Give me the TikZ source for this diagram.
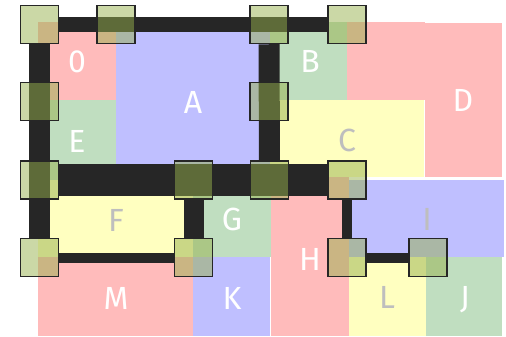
\documentclass[tikz,border=0pt]{standalone}
\usepackage{fontspec}
\setmainfont{Fira Sans}
\definecolor{rred}{RGB}{255,187,187}
\definecolor{rblue}{RGB}{191,191,255}
\definecolor{rgreen}{RGB}{192,222,192}
\definecolor{ryellow}{RGB}{255,255,192}
\definecolor{edgec}{RGB}{38,38,38}
\definecolor{nodec}{RGB}{151,177,77}
\definecolor{lgray}{RGB}{190,190,190}
\tikzset{
  vert/.style={draw=edgec, line width=1.5pt, fill=nodec, fill opacity=0.5, draw opacity=1, minimum size=38pt, inner sep=0pt, outer sep=0pt},
  conn/.style={draw=edgec, line cap=butt},
  lab/.style={font=\fontsize{32}{32}\selectfont, text height=22pt, text depth=0pt, inner sep=0pt, text=white},
  glab/.style={lab, text=lgray}
}
\begin{document}
\begin{tikzpicture}[x=1pt,y=-1pt]
\useasboundingbox (0,0) rectangle (506,337);
% regions
\fill[rred] (38,22) rectangle (116,100);
\fill[rgreen] (38,100) rectangle (116,180);
\fill[rblue] (116,22) rectangle (270,180);
\fill[rgreen] (270,22) rectangle (347,100);
\fill[rred] (347,22) rectangle (425,100);
\fill[rred] (425,23) rectangle (502,177);
\fill[ryellow] (270,100) rectangle (424,177);
\fill[ryellow] (38,180) rectangle (193,257);
\fill[rgreen] (193,180) rectangle (271,257);
\fill[rred] (271,177) rectangle (349,336);
\fill[rblue] (349,180) rectangle (504,257);
\fill[ryellow] (349,257) rectangle (426,336);
\fill[rgreen] (426,257) rectangle (502,336);
\fill[rred] (38,257) rectangle (193,336);
\fill[rblue] (193,257) rectangle (270,336);
% labels
\node[lab] (l0) at (77,62) {0};
\node[lab] (lA) at (193,102) {A};
\node[lab] (lB) at (310,62) {B};
\node[lab] (lD) at (463,100) {D};
\node[lab] (lE) at (77,141) {E};
\node[glab] (lC) at (347,140) {C};
\node[glab] (lF) at (116,220) {F};
\node[lab] (lG) at (232,219) {G};
\node[lab] (lH) at (310,259) {H};
\node[glab] (lI) at (427,219) {I};
\node[glab] (lL) at (387,297) {L};
\node[lab] (lJ) at (465,297) {J};
\node[lab] (lM) at (116,298) {M};
\node[lab] (lK) at (232,298) {K};
% vertex positions
\coordinate (p1) at (39.5,24.5);
\coordinate (p2) at (116,24.5);
\coordinate (p3) at (269,24.5);
\coordinate (p4) at (347,24.5);
\coordinate (p5) at (39.5,101.5);
\coordinate (p6) at (269,101.5);
\coordinate (p7) at (39.5,180);
\coordinate (p8) at (193.5,180);
\coordinate (p9) at (269.5,180);
\coordinate (p10) at (347,180);
\coordinate (p11) at (39.5,257.5);
\coordinate (p12) at (193.5,257.5);
\coordinate (p13) at (347,257.5);
\coordinate (p14) at (428,257.5);
% invisible anchors for clipping connectors
\foreach \i in {1,...,14} {\path (p\i) node[minimum size=39.5pt, inner sep=0pt, outer sep=0pt] (n\i) {};}
% connectors
\draw[conn, line width=15pt] (n1) -- (n4);
\draw[conn, line width=21pt] (n1) -- (n11);
\draw[conn, line width=21pt] (n3) -- (n9);
\draw[conn, line width=32pt] (n7) -- (n10);
\draw[conn, line width=20pt] (n8) -- (n12);
\draw[conn, line width=10pt] (n11) -- (n12);
\draw[conn, line width=10pt] (n10) -- (n13);
\draw[conn, line width=10pt] (n13) -- (n14);
% vertices
\foreach \i in {1,...,14} {\path (p\i) node[vert] (v\i) {};}
\end{tikzpicture}
\end{document}
